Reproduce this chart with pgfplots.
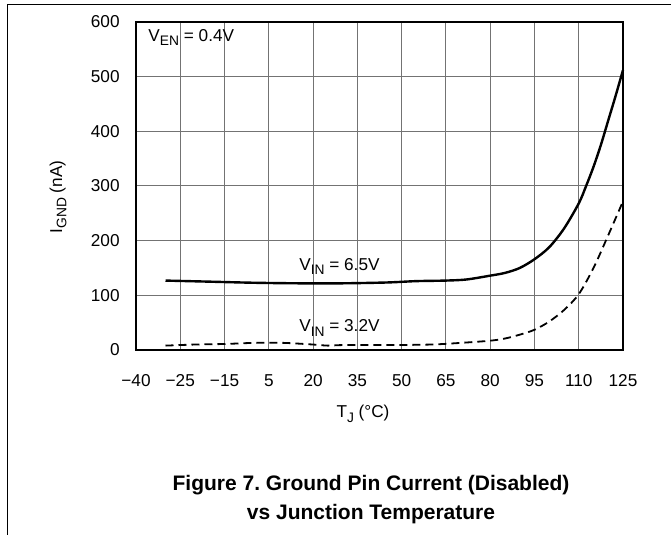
\documentclass[border=0pt]{standalone}
\usepackage{fontspec}
\setmainfont{Liberation Sans}
\usepackage{pgfplots}
\pgfplotsset{compat=1.18}
\frenchspacing
\newcommand{\lblfont}{\fontsize{8.6}{10}\selectfont}
\newcommand{\sub}[1]{\raisebox{-2.1pt}{\fontsize{6.9}{8}\selectfont #1}}
\begin{document}
\begin{tikzpicture}
\useasboundingbox (0,0) rectangle (335.5pt,-267.5pt);
% page frame
\draw[line width=0.5pt] (3.5pt,-267.5pt) -- (3.5pt,-2.5pt) -- (335.5pt,-2.5pt);
\begin{axis}[
    at={(68pt,-175pt)}, anchor=south west,
    scale only axis, width=243.5pt, height=164pt,
    xmin=-40, xmax=125, ymin=0, ymax=600,
    xtick={-40,-25,...,125},
    xticklabels={−40,−25,−15,5,20,35,50,65,80,95,110,125},
    ytick={0,100,...,600},
    yticklabels={0,100,200,300,400,500,600},
    grid=major,
    major grid style={black!55, line width=0.5pt},
    major tick length=0pt,
    axis line style={line width=1pt},
    tick label style={font=\lblfont, inner sep=0pt},
    xticklabel style={anchor=base, yshift=-18.5pt},
    yticklabel style={anchor=east, xshift=-8pt},
    clip=false,
]
\addplot[black, line width=1.2pt, smooth] coordinates {
    (-30,127) (-15,125) (0,123) (15,122) (30,122) (45,123.5) (55,126)
    (65,127) (72,129) (80,136) (85,141) (90,150) (95,166) (100,188)
    (105,222) (110,268) (112.5,300) (115,335) (117.5,375) (120,420)
    (122.5,465) (125,512)
};
\addplot[black, line width=0.9pt, dash pattern=on 4pt off 2.5pt, smooth] coordinates {
    (-30,8) (-20,10) (-10,11) (0,13) (10,13) (20,10) (25,8) (30,9)
    (45,9) (60,10) (70,13) (80,17) (85,21) (90,28) (95,37) (100,52)
    (105,73) (110,102) (115,150) (120,210) (125,272)
};
\node[anchor=base west, inner sep=0pt, font=\lblfont] at (axis cs:-35.9,565) {V\sub{EN} = 0.4V};
\node[anchor=base west, inner sep=0pt, font=\lblfont] at (axis cs:15.2,146) {V\sub{IN} = 6.5V};
\node[anchor=base west, inner sep=0pt, font=\lblfont] at (axis cs:15.2,33) {V\sub{IN} = 3.2V};
\end{axis}
\node[rotate=90, anchor=center, inner sep=0pt, font=\lblfont] at (29pt,-98.5pt) {I\sub{GND} (nA)};
\node[anchor=base, inner sep=0pt, font=\lblfont] at (181.5pt,-209pt) {T\sub{J} (°C)};
\node[anchor=base, inner sep=0pt, font=\bfseries\fontsize{10.5}{12}\selectfont] at (185.5pt,-245.5pt) {Figure 7. Ground Pin Current (Disabled)};
\node[anchor=base, inner sep=0pt, font=\bfseries\fontsize{10.5}{12}\selectfont] at (185.5pt,-260pt) {vs Junction Temperature};
\end{tikzpicture}
\end{document}
